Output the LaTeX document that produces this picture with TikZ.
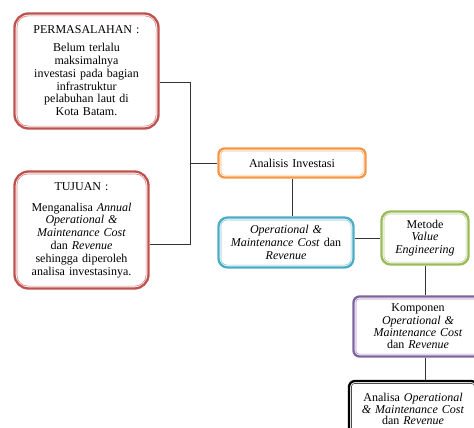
\documentclass[tikz,border=0pt]{standalone}
\usepackage{fontspec}
\setmainfont{Liberation Serif}
\usepackage{xcolor}
\definecolor{merah}{HTML}{C0504D}
\definecolor{oranye}{HTML}{F79646}
\definecolor{biru}{HTML}{4BACC6}
\definecolor{hijau}{HTML}{9BBB59}
\definecolor{ungu}{HTML}{8064A2}

\begin{document}
\begin{tikzpicture}[x=1pt,y=-1pt,
  kotak/.style={draw=#1, line width=2.3pt, fill=white, align=center, inner sep=2pt,
    font=\fontsize{12}{12.8}\selectfont},
  garis/.style={draw=black!80, line width=0.7pt}]
\clip (0,0) rectangle (474,428);
% kotak kiri
\node[kotak=merah, rounded corners=14pt, minimum width=144pt, minimum height=115pt, text width=138pt] (masalah) at (86.5,71)
  {PERMASALAHAN :\\[5pt] Belum terlalu\\ maksimalnya\\ investasi pada bagian\\ infrastruktur\\ pelabuhan laut di\\ Kota Batam.};
\node[kotak=merah, rounded corners=14pt, minimum width=134pt, minimum height=117pt, text width=128pt] (tujuan) at (81.5,230)
  {TUJUAN :\\[8pt] Menganalisa \textit{Annual}\\ \textit{Operational \&}\\ \textit{Maintenance Cost}\\ dan \textit{Revenue}\\ sehingga diperoleh\\ analisa investasinya.};
% kotak kanan
\node[kotak=oranye, rounded corners=6pt, minimum width=147pt, minimum height=29pt, text width=140pt] (analisis) at (292,163)
  {Analisis Investasi};
\node[kotak=biru, rounded corners=9pt, minimum width=135pt, minimum height=50pt, text width=130pt] (om) at (286,242.5)
  {\textit{Operational \&}\\ \textit{Maintenance Cost} dan\\ \textit{Revenue}};
\node[kotak=hijau, rounded corners=9pt, minimum width=87pt, minimum height=53pt, text width=82pt] (metode) at (425,238)
  {Metode\\ \textit{Value}\\ \textit{Engineering}};
\node[kotak=ungu, rounded corners=6pt, minimum width=129pt, minimum height=60pt, text width=124pt,
  font=\fontsize{12}{12.3}\selectfont] (komponen) at (418,326.5)
  {Komponen\\ \textit{Operational \&}\\ \textit{Maintenance Cost}\\ dan \textit{Revenue}};
\node[kotak=black, rounded corners=6pt, minimum width=127pt, minimum height=56pt, text width=124pt,
  font=\fontsize{12}{11.5}\selectfont] (analisa) at (413,409)
  {Analisa \textit{Operational}\\ \textit{\& Maintenance Cost}\\ dan \textit{Revenue}};
% garis dalam tiap kotak
\foreach \n/\w/\r in {masalah/merah/11, tujuan/merah/11, analisis/oranye/3, om/biru/6,
    metode/hijau/6, komponen/ungu/3, analisa/black/3}
  \draw[\w!70, line width=0.6pt, rounded corners=\r pt]
    ([shift={(3.6pt,-3.6pt)}]\n.north west) rectangle ([shift={(-3.6pt,3.6pt)}]\n.south east);
% penghubung
\coordinate (simpul) at (190,163);
\draw[garis] ([yshift=-11pt]masalah.east) -| (simpul);
\draw[garis] ([yshift=-14pt]tujuan.east) -| (simpul);
\draw[garis] (simpul) -- (analisis.west);
\draw[garis] (analisis.south) -- (analisis.south |- om.north);
\draw[garis] ([yshift=4pt]om.east) -- ([yshift=4pt]om.east -| metode.west);
\draw[garis] (metode.south) -- (metode.south |- komponen.north);
\draw[garis] (komponen.south -| metode.south) -- (analisa.north -| metode.south);
\end{tikzpicture}
\end{document}
